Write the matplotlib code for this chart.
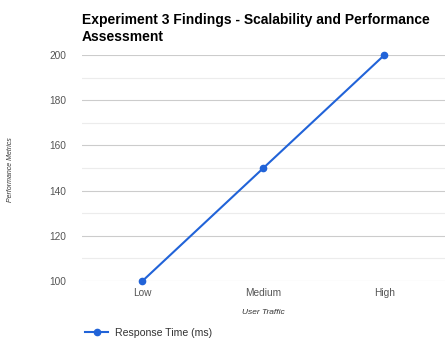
import matplotlib.pyplot as plt
from matplotlib.lines import Line2D

plt.rcParams['font.family'] = ['Liberation Sans', 'DejaVu Sans']

# ── data ─────────────────────────────────────────────────────────────────────
categories = ['Low', 'Medium', 'High']
response_time = [100, 150, 200]
y_ticks = [100, 120, 140, 160, 180, 200]
y_minor = [110, 130, 150, 170, 190]

line_color = '#2163d8'

# ── draw ─────────────────────────────────────────────────────────────────────
fig = plt.figure(figsize=(4.45, 3.39), dpi=100)
ax = fig.add_axes([0.184, 0.171, 0.816, 0.667])

x = list(range(len(categories)))
ax.plot(x, response_time, color=line_color, linewidth=1.5,
        marker='o', markersize=4.5, clip_on=False, zorder=3)

ax.set_xlim(-0.5, len(categories) - 0.5)
ax.set_ylim(100, 200)
ax.set_xticks(x)
ax.set_xticklabels(categories)
ax.set_yticks(y_ticks)
ax.set_yticks(y_minor, minor=True)

ax.grid(axis='y', which='major', color='#cccccc', linewidth=0.8)
ax.grid(axis='y', which='minor', color='#ececec', linewidth=0.8)
ax.set_axisbelow(True)
for s in ax.spines.values():
    s.set_visible(False)
ax.tick_params(axis='both', which='both', length=0, labelsize=7.3, labelcolor='#555555')
ax.tick_params(axis='y', pad=11)
ax.tick_params(axis='x', pad=5)

ax.set_xlabel('User Traffic', fontsize=6, fontstyle='italic', color='#333333', labelpad=8)
fig.text(0.024, 0.5, 'Performance Metrics', rotation=90, fontsize=5,
         fontstyle='italic', color='#333333', ha='center', va='center')

fig.text(0.184, 0.962, 'Experiment 3 Findings - Scalability and Performance\nAssessment',
         fontsize=10, fontweight='bold', ha='left', va='top', linespacing=1.25)

handle = Line2D([0], [0], color=line_color, linewidth=1.5, marker='o', markersize=4.5)
fig.legend(handles=[handle], labels=['Response Time (ms)'], loc='center left',
           bbox_to_anchor=(0.17, 0.018), frameon=False, fontsize=7.6,
           handlelength=2.2, handletextpad=0.6, labelcolor='#333333')

plt.savefig('out.png', dpi=100)
